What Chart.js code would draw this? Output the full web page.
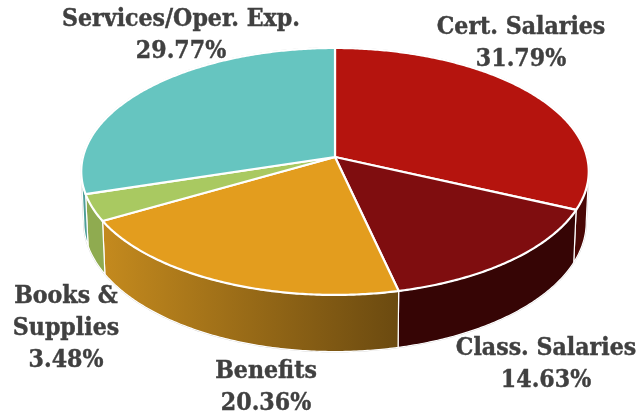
<!DOCTYPE html>
<html>
<head>
<meta charset="utf-8">
<title>Expenditures</title>
<script src="https://cdn.jsdelivr.net/npm/chart.js@4"></script>
<style>
  html, body { margin: 0; padding: 0; background: #fff; }
  canvas { display: block; }
</style>
</head>
<body>
<canvas id="pieChart" width="641" height="414"></canvas>
<script>
const categories = ["Cert. Salaries", "Class. Salaries", "Benefits", "Books & Supplies", "Services/Oper. Exp."];
const values = [31.79, 14.63, 20.36, 3.48, 29.77];
const topColors = ["#b5140e", "#7f0d0f", "#e39d1e", "#a9c961", "#66c5c0"];
const wallFrom = ["#4a0806", "#360505", "#c48a1e", "#8fab50", "#4f9e98"];
const wallTo = ["#4a0806", "#360505", "#6b4a10", "#8fab50", "#4f9e98"];

// label lines and where they sit
const labelLines = [["Cert. Salaries"], ["Class. Salaries"], ["Benefits"], ["Books &", "Supplies"], ["Services/Oper. Exp."]];
const labelX = [521, 546, 266, 66, 181];
const labelY = [28, 349, 372, 297, 20];

// tilted disc with a bit of perspective
const cx = 335, cy = 157, A = 252, B = 121.8, P = 0.117, DEPTH = 50;
const VIS_FROM = 96.7 * Math.PI / 180, VIS_TO = 263.3 * Math.PI / 180;

function project(theta, low) {
  const u = Math.sin(theta), v = -Math.cos(theta);
  const w = 1 - P * v;
  let x = A * u / w;
  let y = B * v / w;
  if (low) {
    x *= 0.99;
    y += DEPTH / w;
  }
  return [cx + x, cy + y];
}

function traceEdge(ctx, a, b, low) {
  const n = Math.max(2, Math.ceil(Math.abs(b - a) / 0.01));
  for (let i = 0; i <= n; i++) {
    const p = project(a + (b - a) * i / n, low);
    ctx.lineTo(p[0], p[1]);
  }
}

const pie3d = {
  id: "pie3d",
  beforeDatasetDraw(chart) {
    const ctx = chart.ctx;
    const arcs = chart.getDatasetMeta(0).data;
    const angles = arcs.map((arc) => [arc.startAngle + Math.PI / 2, arc.endAngle + Math.PI / 2]);

    // soft outline round the whole body
    ctx.save();
    ctx.beginPath();
    traceEdge(ctx, -Math.PI * 0.5, VIS_FROM, false);
    traceEdge(ctx, VIS_FROM, VIS_TO, true);
    traceEdge(ctx, VIS_TO, Math.PI * 1.5, false);
    ctx.closePath();
    ctx.strokeStyle = "#c8c8c8";
    ctx.lineWidth = 1.5;
    ctx.stroke();

    // side walls
    angles.forEach((ang, i) => {
      const a = Math.max(ang[0], VIS_FROM);
      const b = Math.min(ang[1], VIS_TO);
      if (b <= a) return;
      const left = project(b, false)[0];
      const right = project(a, false)[0];
      const grad = ctx.createLinearGradient(left, 0, right, 0);
      grad.addColorStop(0, wallFrom[i]);
      grad.addColorStop(1, wallTo[i]);
      ctx.beginPath();
      traceEdge(ctx, a, b, false);
      traceEdge(ctx, b, a, true);
      ctx.closePath();
      ctx.fillStyle = grad;
      ctx.fill();
      ctx.strokeStyle = "#fff";
      ctx.lineWidth = 1.2;
      ctx.stroke();
    });

    // top faces
    arcs.forEach((arc, i) => {
      ctx.beginPath();
      ctx.moveTo(cx, cy);
      traceEdge(ctx, angles[i][0], angles[i][1], false);
      ctx.closePath();
      ctx.fillStyle = arc.options.backgroundColor;
      ctx.fill();
      ctx.strokeStyle = "#fff";
      ctx.lineWidth = 2.2;
      ctx.lineJoin = "round";
      ctx.stroke();
    });
    ctx.restore();
    return false;
  },
  afterDatasetsDraw(chart) {
    const ctx = chart.ctx;
    ctx.save();
    ctx.font = 'bold 24.6px "DejaVu Serif Condensed", "DejaVu Serif", serif';
    ctx.fillStyle = "#404040";
    ctx.strokeStyle = "#404040";
    ctx.lineWidth = 0.4;
    ctx.textAlign = "center";
    ctx.textBaseline = "middle";
    values.forEach((val, i) => {
      const lines = labelLines[i].concat(val.toFixed(2) + "%");
      lines.forEach((line, j) => {
        ctx.fillText(line, labelX[i], labelY[i] + j * 32);
        ctx.strokeText(line, labelX[i], labelY[i] + j * 32);
      });
    });
    ctx.restore();
  },
};

new Chart(document.getElementById("pieChart").getContext("2d"), {
  type: "pie",
  data: {
    labels: categories,
    datasets: [{ data: values, backgroundColor: topColors, borderWidth: 0 }],
  },
  options: {
    responsive: false,
    animation: false,
    plugins: {
      legend: { display: false },
      tooltip: { enabled: false },
    },
  },
  plugins: [pie3d],
});
</script>
</body>
</html>
